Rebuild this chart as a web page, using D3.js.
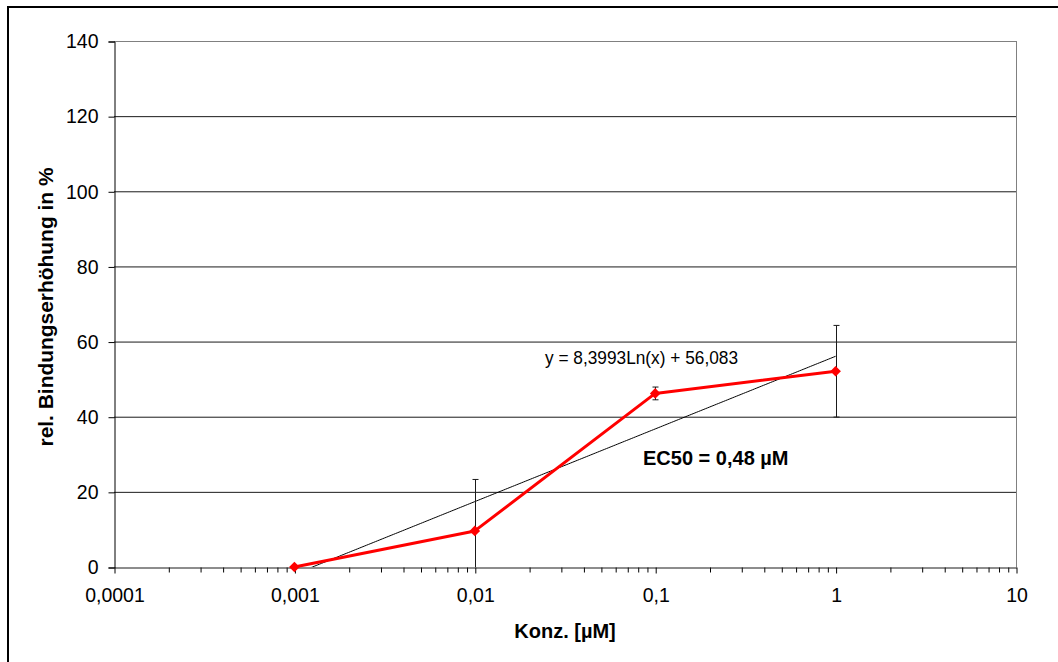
<!DOCTYPE html>
<html>
<head>
<meta charset="utf-8">
<script src="https://cdn.jsdelivr.net/npm/d3@7"></script>
<style>
  html, body { margin: 0; padding: 0; background: #fff; }
  svg { display: block; font-family: "Liberation Sans", Arial, sans-serif; }
</style>
</head>
<body>
<svg id="chart" width="1058" height="662"></svg>
<script>
// Konzentrationen (µM) und relative Bindungserhöhung (%)
const concentrations = [0.001, 0.01, 0.1, 1];
const bindingValues = [0, 9.6, 46.2, 52.1];
const errorValues = [0, 13.7, 1.7, 12.2];

// Achsenbeschriftungen
const yTicks = [0, 20, 40, 60, 80, 100, 120, 140];
const xTicks = [0.0001, 0.001, 0.01, 0.1, 1, 10];
const xTickLabels = ["0,0001", "0,001", "0,01", "0,1", "1", "10"];

// logarithmische Trendlinie y = a·ln(x) + b
const trendA = 8.3993;
const trendB = 56.083;
const trendLabel = "y = 8,3993Ln(x) + 56,083";
const ec50Label = "EC50 = 0,48 µM";
const xTitle = "Konz. [µM]";
const yTitle = "rel. Bindungserhöhung in %";

const svg = d3.select("#chart");
const plot = { left: 114, top: 41, right: 1016, bottom: 567 };
const font = "'Liberation Sans', Arial, sans-serif";

const x = d3.scaleLog().domain([0.0001, 10]).range([plot.left, plot.right]);
const y = d3.scaleLinear().domain([0, 140]).range([plot.bottom, plot.top]);

// äußerer Rahmen
svg.append("rect")
  .attr("x", 8).attr("y", 7)
  .attr("width", 1070).attr("height", 680)
  .attr("fill", "none").attr("stroke", "#000").attr("stroke-width", 2);

// Gitterlinien
svg.append("g").selectAll("line")
  .data(yTicks.filter(d => d > 0))
  .join("line")
  .attr("x1", plot.left).attr("x2", plot.right)
  .attr("y1", d => y(d) + 0.5).attr("y2", d => y(d) + 0.5)
  .attr("stroke", d => d === 140 ? "#808080" : "#1a1a1a")
  .attr("stroke-width", 1);

// rechter Rand der Zeichenfläche
svg.append("line")
  .attr("x1", plot.right + 0.5).attr("x2", plot.right + 0.5)
  .attr("y1", plot.top).attr("y2", plot.bottom)
  .attr("stroke", "#808080");

// Clip für Trendlinie
svg.append("clipPath").attr("id", "plotClip")
  .append("rect")
  .attr("x", plot.left).attr("y", plot.top)
  .attr("width", plot.right - plot.left).attr("height", plot.bottom - plot.top);

// Y-Achse
const yAxis = svg.append("g")
  .attr("transform", `translate(${plot.left + 0.5},0.5)`)
  .call(d3.axisLeft(y).tickValues(yTicks).tickSize(6).tickPadding(10).tickFormat(d => d));
yAxis.select(".domain").attr("stroke", "#000");
yAxis.selectAll(".tick line").attr("stroke", "#000");
yAxis.selectAll("text").attr("font-size", 19.5).attr("fill", "#000")
  .attr("font-family", font);

// X-Achse mit Zwischenstrichen
const minorTicks = [];
for (let e = -4; e < 1; e++) {
  for (let m = 2; m <= 9; m++) minorTicks.push(m * Math.pow(10, e));
}
const xMinor = svg.append("g")
  .attr("transform", `translate(0.5,${plot.bottom + 0.5})`)
  .call(d3.axisBottom(x).tickValues(minorTicks).tickSize(5).tickFormat(""));
xMinor.select(".domain").remove();
xMinor.selectAll(".tick line").attr("stroke", "#000");

const xAxis = svg.append("g")
  .attr("transform", `translate(0.5,${plot.bottom + 0.5})`)
  .call(d3.axisBottom(x).tickValues(xTicks).tickSize(6).tickSizeOuter(0).tickPadding(15)
    .tickFormat((d, i) => xTickLabels[i]));
xAxis.select(".domain").attr("stroke", "#1a1a1a");
xAxis.selectAll(".tick line").attr("stroke", "#000");
xAxis.selectAll("text").attr("font-size", 19.5).attr("fill", "#000")
  .attr("font-family", font);

// Trendlinie
const trendX = d3.range(0, 301).map(i => Math.pow(10, -3 + 3 * i / 300));
svg.append("path")
  .attr("clip-path", "url(#plotClip)")
  .attr("d", d3.line().x(d => x(d)).y(d => y(trendA * Math.log(d) + trendB))(trendX))
  .attr("fill", "none").attr("stroke", "#000").attr("stroke-width", 1);

// Fehlerbalken
const errs = concentrations.map((c, i) => ({ c, v: bindingValues[i], e: errorValues[i] }))
  .filter(d => d.e > 0);
const eg = svg.append("g").attr("stroke", "#1a1a1a").attr("stroke-width", 1);
errs.forEach(d => {
  const lo = Math.max(0, d.v - d.e), hi = d.v + d.e;
  const cx = Math.round(x(d.c)) + 0.5;
  eg.append("line").attr("x1", cx).attr("x2", cx).attr("y1", y(lo)).attr("y2", y(hi));
  eg.append("line").attr("x1", cx - 3).attr("x2", cx + 3).attr("y1", y(hi)).attr("y2", y(hi));
  if (d.v - d.e > 0)
    eg.append("line").attr("x1", cx - 3).attr("x2", cx + 3).attr("y1", y(lo)).attr("y2", y(lo));
});

// Messwerte
const pts = concentrations.map((c, i) => [x(c), y(bindingValues[i])]);
svg.append("path")
  .attr("d", d3.line()(pts))
  .attr("fill", "none").attr("stroke", "#ff0000").attr("stroke-width", 3)
  .attr("stroke-linejoin", "round");
svg.append("g").selectAll("path")
  .data(pts)
  .join("path")
  .attr("transform", d => `translate(${d[0]},${d[1]})`)
  .attr("d", d3.symbol().type(d3.symbolDiamond2).size(72))
  .attr("fill", "#ff0000");

// Beschriftungen
svg.append("text")
  .attr("x", 545).attr("y", 364)
  .attr("font-size", 18.5).attr("fill", "#000")
  .attr("textLength", 193).attr("lengthAdjust", "spacingAndGlyphs")
  .text(trendLabel);
svg.append("text")
  .attr("x", 643).attr("y", 465)
  .attr("font-size", 20).attr("font-weight", "bold").attr("fill", "#000")
  .text(ec50Label);

svg.append("text")
  .attr("x", 565).attr("y", 638)
  .attr("text-anchor", "middle")
  .attr("font-size", 20).attr("font-weight", "bold").attr("fill", "#000")
  .text(xTitle);
svg.append("text")
  .attr("transform", `translate(53,307) rotate(-90)`)
  .attr("text-anchor", "middle")
  .attr("font-size", 20.5).attr("font-weight", "bold").attr("fill", "#000")
  .attr("textLength", 279).attr("lengthAdjust", "spacingAndGlyphs")
  .text(yTitle);
</script>
</body>
</html>
